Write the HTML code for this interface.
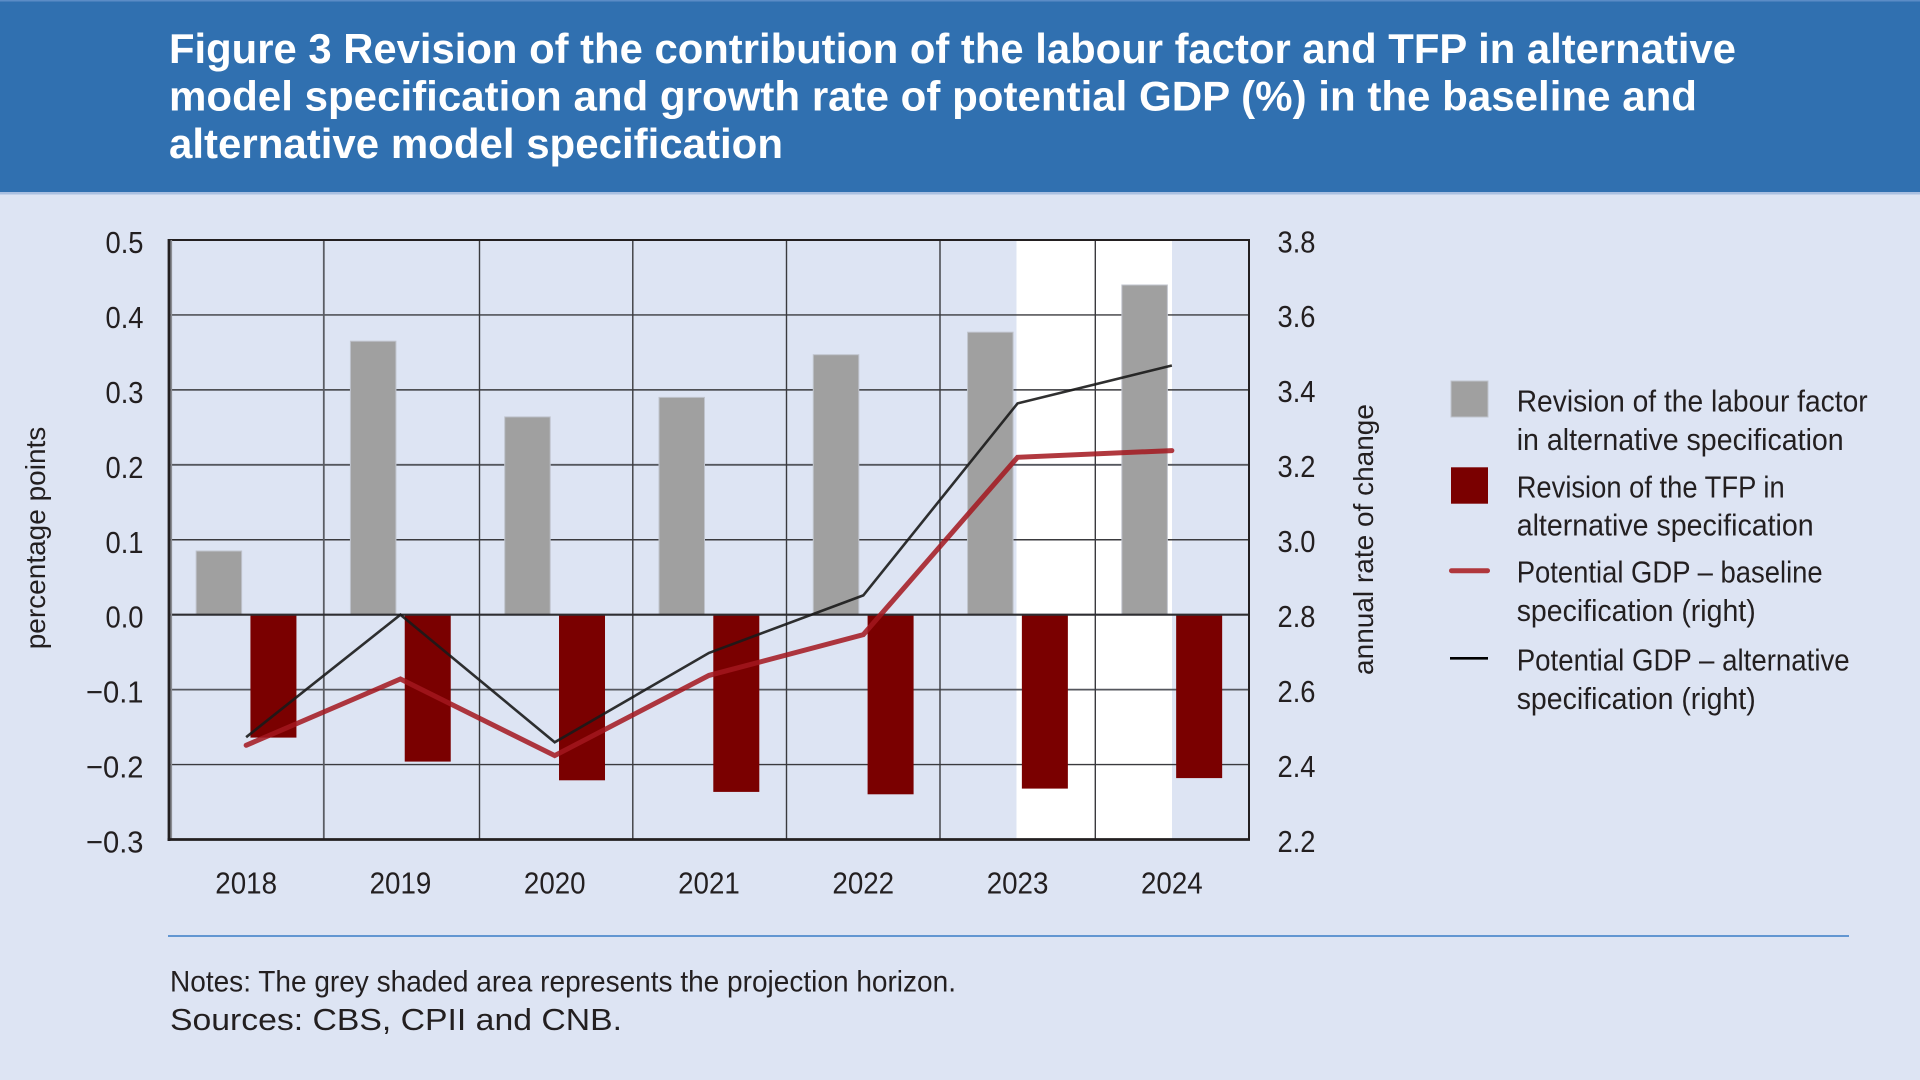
<!DOCTYPE html>
<html>
<head>
<meta charset="utf-8">
<style>
  html,body{margin:0;padding:0;background:#dde4f3;}
  svg{display:block;}
  text{font-family:"Liberation Sans", Arial, sans-serif;}
</style>
</head>
<body>
<svg width="1920" height="1080" viewBox="0 0 1920 1080" xmlns="http://www.w3.org/2000/svg">
  <!-- background -->
  <rect x="0" y="0" width="1920" height="1080" fill="#dde4f3"/>
  <!-- header -->
  <rect x="0" y="0" width="1920" height="192" fill="#3070b0"/>
  <rect x="0" y="0" width="1920" height="1.5" fill="#5b8cc6"/>
  <rect x="0" y="192" width="1920" height="2.5" fill="#a9bfe0"/>
  <g fill="#ffffff" font-weight="bold" font-size="42">
    <text x="169" y="63" textLength="1567" lengthAdjust="spacingAndGlyphs">Figure 3 Revision of the contribution of the labour factor and TFP in alternative</text>
    <text x="169" y="110.5" textLength="1528" lengthAdjust="spacingAndGlyphs">model specification and growth rate of potential GDP (%) in the baseline and</text>
    <text x="169" y="158" textLength="614" lengthAdjust="spacingAndGlyphs">alternative model specification</text>
  </g>

  <!-- projection horizon (white) -->
  <rect x="1016.5" y="240" width="155.5" height="599.5" fill="#ffffff"/>

  <!-- horizontal gridlines -->
  <g stroke="#3a3a3e" stroke-width="1.4">
    <line x1="169" y1="314.94" x2="1249" y2="314.94"/>
    <line x1="169" y1="389.88" x2="1249" y2="389.88"/>
    <line x1="169" y1="464.82" x2="1249" y2="464.82" stroke="#55575e" stroke-width="1.8"/>
    <line x1="169" y1="539.76" x2="1249" y2="539.76"/>
    <line x1="169" y1="689.64" x2="1249" y2="689.64" stroke="#55575e" stroke-width="1.8"/>
    <line x1="169" y1="764.58" x2="1249" y2="764.58"/>
  </g>
  <!-- vertical gridlines -->
  <g stroke="#3a3a3e" stroke-width="1.4">
    <line x1="323.8" y1="240" x2="323.8" y2="839.5" stroke="#5a5c63" stroke-width="1.8"/>
    <line x1="479.5" y1="240" x2="479.5" y2="839.5"/>
    <line x1="632.8" y1="240" x2="632.8" y2="839.5"/>
    <line x1="786.5" y1="240" x2="786.5" y2="839.5"/>
    <line x1="940" y1="240" x2="940" y2="839.5"/>
    <line x1="1095.3" y1="240" x2="1095.3" y2="839.5"/>
  </g>

  <!-- gray bars -->
  <g fill="#a0a0a0" stroke="#bfc3cc" stroke-width="1">
    <rect x="196.14" y="551.0" width="45.5" height="63.7"/>
    <rect x="350.43" y="341.2" width="45.5" height="273.5"/>
    <rect x="504.71" y="416.9" width="45.5" height="197.8"/>
    <rect x="659.0" y="397.4" width="45.5" height="217.3"/>
    <rect x="813.29" y="354.7" width="45.5" height="260.0"/>
    <rect x="967.57" y="332.2" width="45.5" height="282.5"/>
    <rect x="1121.86" y="285.0" width="45.5" height="329.7"/>
  </g>
  <!-- dark red bars -->
  <g fill="#7a0000">
    <rect x="250.44" y="614.7" width="46" height="122.9"/>
    <rect x="404.73" y="614.7" width="46" height="146.9"/>
    <rect x="559.01" y="614.7" width="46" height="165.6"/>
    <rect x="713.3" y="614.7" width="46" height="177.2"/>
    <rect x="867.59" y="614.7" width="46" height="179.6"/>
    <rect x="1021.87" y="614.7" width="46" height="173.9"/>
    <rect x="1176.16" y="614.7" width="46" height="163.4"/>
  </g>

  <!-- zero line -->
  <line x1="169" y1="614.7" x2="1249" y2="614.7" stroke="#2e2e32" stroke-width="2.2"/>

  <!-- frame -->
  <line x1="169" y1="240" x2="1250" y2="240" stroke="#231f20" stroke-width="2"/>
  <line x1="1249" y1="239" x2="1249" y2="840.5" stroke="#231f20" stroke-width="2"/>
  <line x1="171.3" y1="240" x2="171.3" y2="839.5" stroke="#8a8c92" stroke-width="1.6"/>
  <line x1="169" y1="239" x2="169" y2="841" stroke="#231f20" stroke-width="2.8"/>
  <line x1="167.6" y1="839.5" x2="1250" y2="839.5" stroke="#231f20" stroke-width="2.8"/>

  <!-- lines -->
  <polyline fill="none" stroke="#a3161d" stroke-opacity="0.85" stroke-width="5" stroke-linejoin="miter" stroke-linecap="round"
    points="246.14,745.3 400.43,679.0 554.71,755.6 709,675.4 863.29,634.7 1017.57,457.3 1171.86,450.6"/>
  <polyline fill="none" stroke="#1a1a1a" stroke-opacity="0.9" stroke-width="2.6" stroke-linejoin="miter"
    points="246.14,737.2 400.43,614.7 554.71,742.3 709,652.9 863.29,595.4 1017.57,403.4 1171.86,365.5"/>

  <!-- left tick labels -->
  <g fill="#231f20" font-size="31">
    <text x="105.5" y="253" textLength="38" lengthAdjust="spacingAndGlyphs">0.5</text>
    <text x="105.5" y="327.9" textLength="38" lengthAdjust="spacingAndGlyphs">0.4</text>
    <text x="105.5" y="402.9" textLength="38" lengthAdjust="spacingAndGlyphs">0.3</text>
    <text x="105.5" y="477.8" textLength="38" lengthAdjust="spacingAndGlyphs">0.2</text>
    <text x="105.5" y="552.8" textLength="38" lengthAdjust="spacingAndGlyphs">0.1</text>
    <text x="105.5" y="627.7" textLength="38" lengthAdjust="spacingAndGlyphs">0.0</text>
    <text x="86" y="702.6" textLength="57.5" lengthAdjust="spacingAndGlyphs">−0.1</text>
    <text x="86" y="777.6" textLength="57.5" lengthAdjust="spacingAndGlyphs">−0.2</text>
    <text x="86" y="852.5" textLength="57.5" lengthAdjust="spacingAndGlyphs">−0.3</text>
  </g>
  <!-- right tick labels -->
  <g fill="#231f20" font-size="31">
    <text x="1277.5" y="252.3" textLength="38" lengthAdjust="spacingAndGlyphs">3.8</text>
    <text x="1277.5" y="327.2" textLength="38" lengthAdjust="spacingAndGlyphs">3.6</text>
    <text x="1277.5" y="402.2" textLength="38" lengthAdjust="spacingAndGlyphs">3.4</text>
    <text x="1277.5" y="477.1" textLength="38" lengthAdjust="spacingAndGlyphs">3.2</text>
    <text x="1277.5" y="552" textLength="38" lengthAdjust="spacingAndGlyphs">3.0</text>
    <text x="1277.5" y="627" textLength="38" lengthAdjust="spacingAndGlyphs">2.8</text>
    <text x="1277.5" y="702" textLength="38" lengthAdjust="spacingAndGlyphs">2.6</text>
    <text x="1277.5" y="777" textLength="38" lengthAdjust="spacingAndGlyphs">2.4</text>
    <text x="1277.5" y="851.8" textLength="38" lengthAdjust="spacingAndGlyphs">2.2</text>
  </g>
  <!-- x labels -->
  <g fill="#231f20" font-size="31">
    <text x="215.3" y="893.3" textLength="61.7" lengthAdjust="spacingAndGlyphs">2018</text>
    <text x="369.6" y="893.3" textLength="61.7" lengthAdjust="spacingAndGlyphs">2019</text>
    <text x="523.9" y="893.3" textLength="61.7" lengthAdjust="spacingAndGlyphs">2020</text>
    <text x="678.1" y="893.3" textLength="61.7" lengthAdjust="spacingAndGlyphs">2021</text>
    <text x="832.4" y="893.3" textLength="61.7" lengthAdjust="spacingAndGlyphs">2022</text>
    <text x="986.7" y="893.3" textLength="61.7" lengthAdjust="spacingAndGlyphs">2023</text>
    <text x="1141.0" y="893.3" textLength="61.7" lengthAdjust="spacingAndGlyphs">2024</text>
  </g>

  <!-- axis titles -->
  <text transform="translate(45,538) rotate(-90)" text-anchor="middle" font-size="28" fill="#231f20">percentage points</text>
  <text transform="translate(1373,539.5) rotate(-90)" text-anchor="middle" font-size="28" fill="#231f20">annual rate of change</text>

  <!-- legend -->
  <rect x="1451" y="381" width="37" height="36" fill="#a0a0a0" stroke="#bfc3cc" stroke-width="1"/>
  <rect x="1451" y="467.3" width="37" height="36.4" fill="#7a0000"/>
  <line x1="1451.5" y1="570.7" x2="1487.5" y2="570.7" stroke="#b0373c" stroke-width="5" stroke-linecap="round"/>
  <line x1="1450" y1="658.3" x2="1488" y2="658.3" stroke="#000000" stroke-width="2.6"/>
  <g fill="#231f20" font-size="31">
    <text x="1516.7" y="411.7" textLength="351" lengthAdjust="spacingAndGlyphs">Revision of the labour factor</text>
    <text x="1516.7" y="450" textLength="327" lengthAdjust="spacingAndGlyphs">in alternative specification</text>
    <text x="1516.7" y="497.3" textLength="268" lengthAdjust="spacingAndGlyphs">Revision of the TFP in</text>
    <text x="1516.7" y="535.7" textLength="297" lengthAdjust="spacingAndGlyphs">alternative specification</text>
    <text x="1516.7" y="582.7" textLength="306" lengthAdjust="spacingAndGlyphs">Potential GDP – baseline</text>
    <text x="1516.7" y="621" textLength="239" lengthAdjust="spacingAndGlyphs">specification (right)</text>
    <text x="1516.7" y="670.7" textLength="333" lengthAdjust="spacingAndGlyphs">Potential GDP – alternative</text>
    <text x="1516.7" y="709" textLength="239" lengthAdjust="spacingAndGlyphs">specification (right)</text>
  </g>

  <!-- separator -->
  <line x1="168" y1="936" x2="1849" y2="936" stroke="#3a7cc6" stroke-width="1.6"/>

  <!-- notes -->
  <text x="170" y="991.7" font-size="30" fill="#231f20" textLength="786" lengthAdjust="spacingAndGlyphs">Notes: The grey shaded area represents the projection horizon.</text>
  <text x="170" y="1030" font-size="30.5" fill="#231f20" textLength="452" lengthAdjust="spacingAndGlyphs">Sources: CBS, CPII and CNB.</text>
</svg>
</body>
</html>
